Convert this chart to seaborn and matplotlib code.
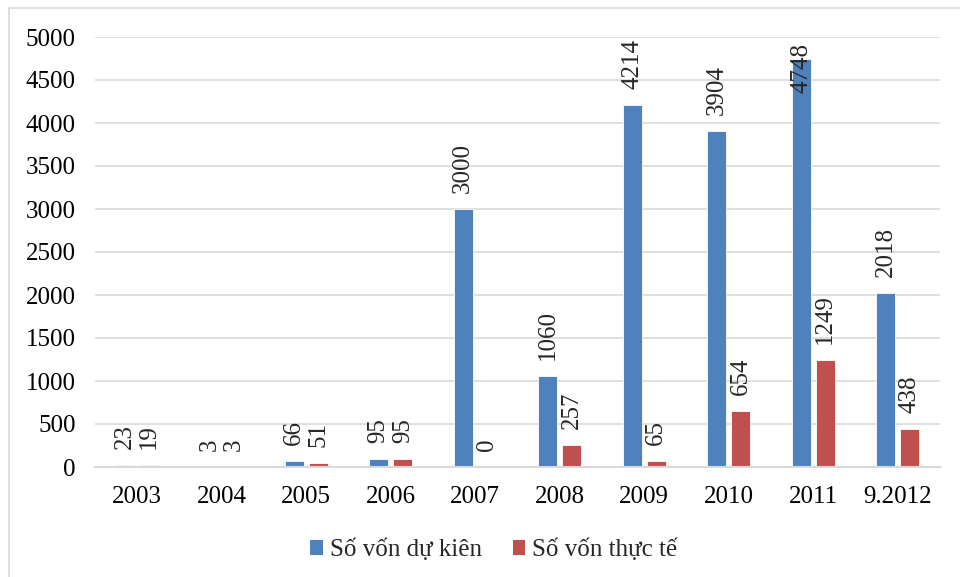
import matplotlib
matplotlib.use("Agg")
import matplotlib.pyplot as plt
from matplotlib.patches import Rectangle, Patch
import seaborn as sns
import pandas as pd

years = ["2003", "2004", "2005", "2006", "2007", "2008", "2009", "2010", "2011", "9.2012"]
planned = [23, 3, 66, 95, 3000, 1060, 4214, 3904, 4748, 2018]
actual = [19, 3, 51, 95, 0, 257, 65, 654, 1249, 438]
series_names = ["Số vốn dự kiên", "Số vốn thực tế"]
colors = ["#4F81BD", "#C0504D"]

df = pd.DataFrame({
    "year": years * 2,
    "value": planned + actual,
    "series": [series_names[0]] * len(years) + [series_names[1]] * len(years),
})

sns.set_theme(style="white")
plt.rcParams["font.family"] = ["Liberation Serif", "DejaVu Serif"]

FS = 18
W, H, DPI = 960, 577, 100
fig = plt.figure(figsize=(W / DPI, H / DPI), dpi=DPI)
ax = fig.add_axes([95 / W, 1 - 467 / H, (940 - 95) / W, (467 - 37) / H])

sns.barplot(data=df, x="year", y="value", hue="series", order=years,
            hue_order=series_names, palette=colors, width=0.57, gap=0.2,
            saturation=1, edgecolor="white", linewidth=0.6, ax=ax, legend=False)

ax.set_ylim(0, 5000)
ax.set_yticks(range(0, 5001, 500))
ax.set_xlim(-0.5, len(years) - 0.5)
ax.yaxis.grid(True, color="#D9D9D9", linewidth=1.2)
ax.set_axisbelow(True)
for side in ["top", "right", "left"]:
    ax.spines[side].set_visible(False)
ax.spines["bottom"].set_color("#D9D9D9")
ax.spines["bottom"].set_linewidth(1.5)
ax.tick_params(axis="both", length=0, labelsize=FS, colors="black")
ax.tick_params(axis="y", pad=14)
ax.tick_params(axis="x", pad=14)
ax.set_xlabel("")
ax.set_ylabel("")

# value labels, rotated, above each bar; kept inside the chart area
fig.canvas.draw()
renderer = fig.canvas.get_renderer()
top_limit = H - 17
for container in ax.containers:
    for bar in container:
        v = bar.get_height()
        xc = bar.get_x() + bar.get_width() / 2
        ypx = ax.transData.transform((xc, v))[1] + 16
        t = ax.annotate(f"{int(round(v))}", xy=(xc, ypx),
                        xycoords=("data", "figure pixels"),
                        rotation=90, ha="center", va="bottom", fontsize=FS,
                        annotation_clip=False)
        ext = t.get_window_extent(renderer)
        if ext.y1 > top_limit:
            t.set_va("top")
            t.xy = (xc, top_limit)

handles = [Patch(facecolor=c, edgecolor="none") for c in colors]
fig.legend(handles, series_names, loc="center", bbox_to_anchor=(494 / W, 1 - 550 / H),
           ncol=2, frameon=False, fontsize=FS, handlelength=0.5, handleheight=0.5,
           handletextpad=0.3, columnspacing=1.2)

fig.patches.append(Rectangle((9 / W, -0.1), 1.2, 1 - 8 / H + 0.1,
                             transform=fig.transFigure, fill=False,
                             edgecolor="#D9D9D9", linewidth=1.2))

fig.savefig("out.png", dpi=DPI)
